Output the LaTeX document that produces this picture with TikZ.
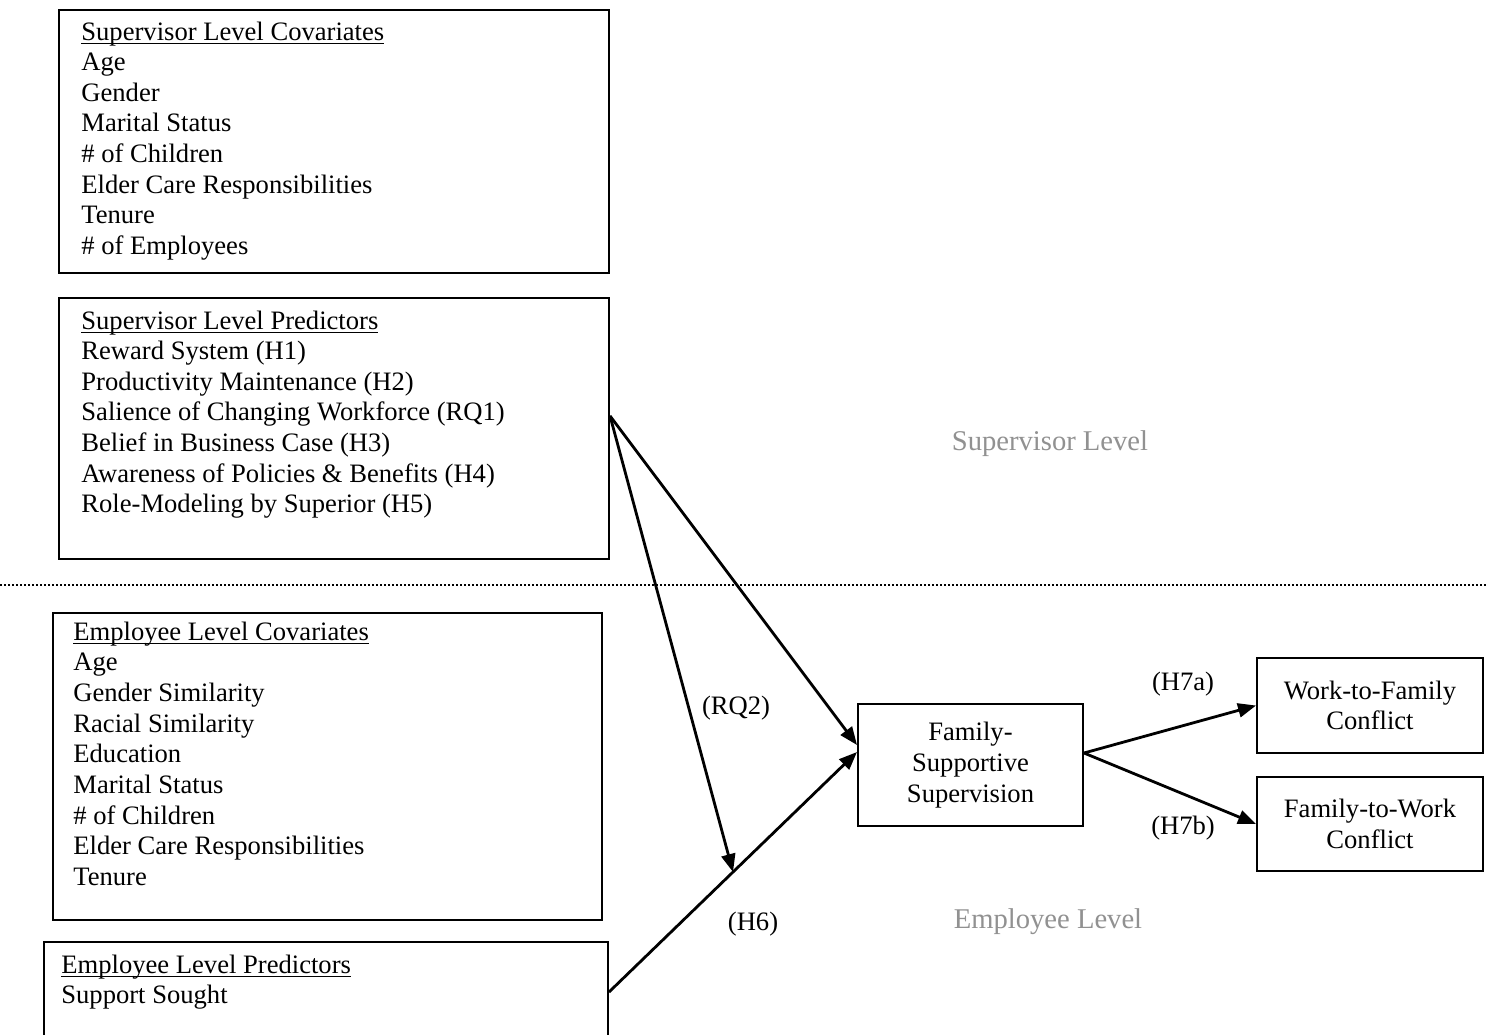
\documentclass[tikz,border=0pt]{standalone}
\usepackage{fontspec}
\setmainfont{Liberation Serif}
\usetikzlibrary{arrows.meta,calc}
\newcommand\fsz{\fontsize{13.3}{15.3}\selectfont}
\newcommand\fszl{\fontsize{14.3}{16.5}\selectfont}
\newcommand\myul[1]{\setbox0\hbox{#1}\rlap{\rule[-2.1pt]{\wd0}{0.75pt}}\box0}
\definecolor{lvlgray}{RGB}{145,145,145}
\tikzset{
  box/.style={draw, line width=1pt, anchor=north west, inner sep=0pt},
  item/.style={anchor=base west, inner sep=0pt, font=\fsz},
  lbl/.style={inner sep=0pt, font=\fsz},
  lvl/.style={anchor=base, inner sep=0pt, font=\fszl, text=lvlgray},
  ctext/.style={box, align=center, font=\fsz},
  conn/.style={line width=1.4pt, -{Triangle[length=9pt,width=7pt]}},
}
\begin{document}
\begin{tikzpicture}[x=0.5pt,y=-0.5pt]
\clip (0,0) rectangle (1487,1034);
\fill[white] (0,0) rectangle (1487,1034);
% boxes
\node[box, minimum width=275pt, minimum height=131.5pt] (b1) at (58,9) {};
\node[box, minimum width=275pt, minimum height=130.5pt] (b2) at (58,297) {};
\node[box, minimum width=274.5pt, minimum height=153.5pt] (b3) at (52,612) {};
\node[box, minimum width=282pt, minimum height=50pt] (b4) at (43,941) {};
% supervisor covariates
\node[item] (b1t) at (81,40) {\myul{Supervisor Level Covariates}};
\foreach \t [count=\i] in {Age,Gender,Marital Status,\# of Children,Elder Care Responsibilities,Tenure,\# of Employees}
  \node[item] (b1i\i) at (81,{40+30.6*\i}) {\t};
% supervisor predictors
\node[item] (b2t) at (81,329) {\myul{Supervisor Level Predictors}};
\foreach \t [count=\i] in {Reward System (H1),Productivity Maintenance (H2),Salience of Changing Workforce (RQ1),Belief in Business Case (H3),Awareness of Policies \& Benefits (H4),Role-Modeling by Superior (H5)}
  \node[item] (b2i\i) at (81,{329+30.6*\i}) {\t};
% employee covariates
\node[item] (b3t) at (73,640) {\myul{Employee Level Covariates}};
\foreach \t [count=\i] in {Age,Gender Similarity,Racial Similarity,Education,Marital Status,\# of Children,Elder Care Responsibilities,Tenure}
  \node[item] (b3i\i) at (73,{640+30.7*\i}) {\t};
% employee predictors
\node[item] (b4t) at (61,973) {\myul{Employee Level Predictors}};
\node[item] (b4i1) at (61,1003) {Support Sought};
% level divider
\draw[line width=0.75pt, dash pattern=on 1pt off 1pt] (0,585) -- (1487,585);
\node[lvl] (suplvl) at (1050,450) {Supervisor Level};
\node[lvl] (emplvl) at (1048,928) {Employee Level};
% outcome boxes
\node[ctext, minimum width=112.5pt, minimum height=61pt] (fss) at (857,703) {Family-\\Supportive\\Supervision};
\node[ctext, minimum width=113pt, minimum height=47.5pt] (wtf) at (1256,657) {Work-to-Family\\Conflict};
\node[ctext, minimum width=113pt, minimum height=47pt] (ftw) at (1256,776) {Family-to-Work\\Conflict};
% attachment points
\coordinate (b2out) at ($(b2.north east)!0.452!(b2.south east)$);
\coordinate (b4out) at (b4.east |- 0,992);
\coordinate (fssinA) at (fss.west |- 0,745);
\coordinate (fssinB) at (fss.west |- 0,752);
\coordinate (fssout) at (fss.east |- 0,753);
\coordinate (h6mid) at ($(b4out)!0.5!(fssinB)$);
% connectors
\draw[conn] (b2out) -- (fssinA);
\draw[conn] (b4out) -- (fssinB);
\draw[conn] (b2out) -- (h6mid);
\draw[conn] (fssout) -- (wtf.west);
\draw[conn] (fssout) -- (ftw.west);
% labels
\node[lbl] (rq2) at (736,708) {(RQ2)};
\node[lbl] (h6) at (753,924) {(H6)};
\node[lbl] (h7a) at (1183,684) {(H7a)};
\node[lbl] (h7b) at (1183,828) {(H7b)};
\end{tikzpicture}
\end{document}
